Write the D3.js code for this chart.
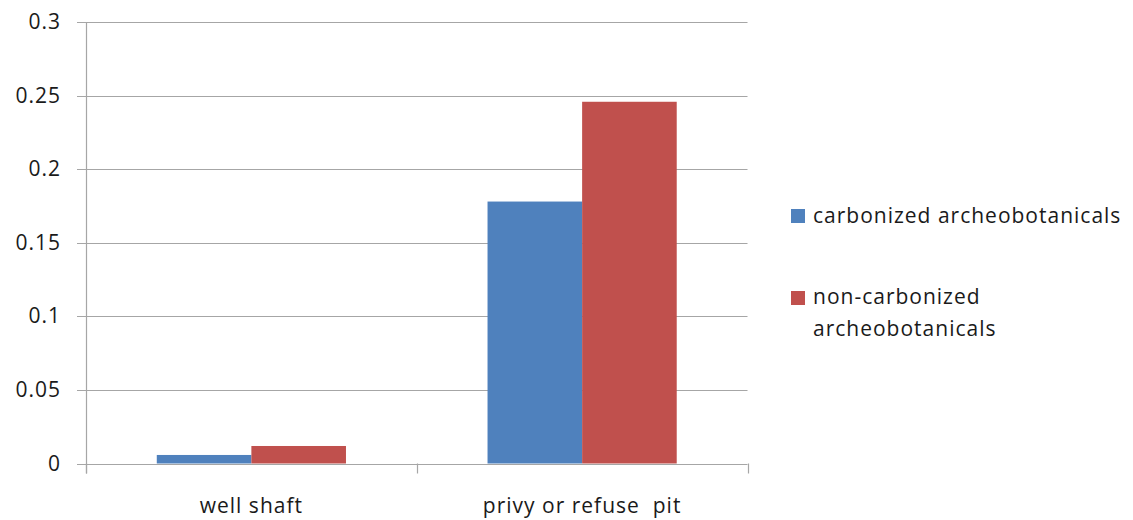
<!DOCTYPE html>
<html><head><meta charset="utf-8">
<script src="https://cdn.jsdelivr.net/npm/d3@7"></script>
<style>body{margin:0;background:#fff}svg{display:block}text{font-family:"Open Sans","Noto Sans",sans-serif;fill:#1a1a1a;letter-spacing:1px}</style>
</head><body><svg id="c" width="1133" height="520"></svg>
<script>
const categories = ["well shaft", "privy or refuse  pit"];
const seriesNames = ["carbonized archeobotanicals", "non-carbonized archeobotanicals"];
const carbonized = [0.0058, 0.178];
const nonCarbonized = [0.0119, 0.2458];
const yTicks = [0, 0.05, 0.1, 0.15, 0.2, 0.25, 0.3];
const yTickLabels = ["0", "0.05", "0.1", "0.15", "0.2", "0.25", "0.3"];
const colors = ["#4F81BD", "#C0504D"];

const svg = d3.select("#c");
const L = 86, R = 747.5, T = 22, B = 463.5;
const FS = 21;
const y = d3.scaleLinear().domain([0, 0.3]).range([B, T]);
const x0 = d3.scaleBand().domain(categories).range([L, R]).paddingInner(0).paddingOuter(0);
const barW = x0.bandwidth() * 0.286;
const x1 = d3.scaleBand().domain(seriesNames).range([0, barW * 2]);

// gridlines
svg.append("g").selectAll("line").data(yTicks).join("line")
  .attr("x1", L - 9).attr("x2", R).attr("y1", d => Math.round(y(d)) + 0.5).attr("y2", d => Math.round(y(d)) + 0.5)
  .attr("stroke", "#a6a6a6").attr("stroke-width", 1.2);

// y axis line
svg.append("line").attr("x1", L + 0.5).attr("x2", L + 0.5).attr("y1", T).attr("y2", B + 10)
  .attr("stroke", "#a6a6a6").attr("stroke-width", 1.2);

// x ticks
const xTickPos = [L, L + x0.bandwidth(), R];
svg.append("g").selectAll("line").data(xTickPos).join("line")
  .attr("x1", d => Math.round(d) + 0.5).attr("x2", d => Math.round(d) + 0.5)
  .attr("y1", B).attr("y2", B + 10).attr("stroke", "#a6a6a6").attr("stroke-width", 1.2);

// y labels
svg.append("g").selectAll("text").data(yTicks).join("text")
  .attr("x", 61).attr("y", d => y(d) + 7).attr("text-anchor", "end")
  .attr("font-size", FS).text((d, i) => yTickLabels[i]);

// bars
const data = [carbonized, nonCarbonized];
const g = svg.append("g");
categories.forEach((c, ci) => {
  const gx = x0(c) + x0.bandwidth() / 2 - barW;
  seriesNames.forEach((s, si) => {
    const v = data[si][ci];
    g.append("rect").attr("x", gx + x1(s)).attr("width", x1.bandwidth())
      .attr("y", y(v)).attr("height", B - y(v)).attr("fill", colors[si]);
  });
});

// x labels
svg.append("g").selectAll("text").data(categories).join("text")
  .attr("x", d => x0(d) + x0.bandwidth() / 2).attr("y", 513).attr("text-anchor", "middle")
  .attr("font-size", FS).attr("xml:space", "preserve").style("white-space", "pre").text(d => d);

// legend
const leg = svg.append("g");
leg.append("rect").attr("x", 791).attr("y", 209).attr("width", 14).attr("height", 14).attr("fill", colors[0]);
leg.append("text").attr("x", 813).attr("y", 223).attr("font-size", FS).text("carbonized archeobotanicals");
leg.append("rect").attr("x", 791).attr("y", 291).attr("width", 14).attr("height", 14).attr("fill", colors[1]);
const t2 = leg.append("text").attr("x", 813).attr("y", 304).attr("font-size", FS);
t2.append("tspan").attr("x", 813).text("non-carbonized");
t2.append("tspan").attr("x", 813).attr("dy", 32).text("archeobotanicals");
</script></body></html>
